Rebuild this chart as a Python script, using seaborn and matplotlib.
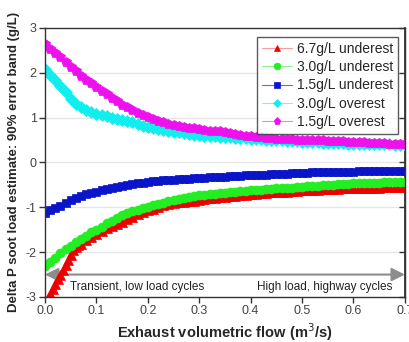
import numpy as np
import pandas as pd
import matplotlib
matplotlib.use("Agg")
import matplotlib.pyplot as plt
import seaborn as sns

flow = [round(0.01 * i, 2) for i in range(71)]
# the steep red curve is sampled more densely at low flow
flow_67 = [0.0, 0.005, 0.01, 0.015, 0.02, 0.025, 0.03, 0.035, 0.04, 0.045,
           0.05, 0.055, 0.06, 0.065] + [round(0.01 * i, 2) for i in range(7, 71)]

under_67 = [-3.10, -3.02, -2.93, -2.83, -2.72, -2.61, -2.50, -2.39, -2.28, -2.17,
            -2.06, -1.96, -1.88, -1.85, -1.81, -1.74, -1.66,
            -1.60, -1.54, -1.47, -1.42, -1.37, -1.32, -1.27, -1.21, -1.16, -1.11,
            -1.06, -1.03, -0.99, -0.96, -0.93, -0.91, -0.89, -0.88, -0.86, -0.85,
            -0.84, -0.82, -0.80, -0.79, -0.77, -0.76, -0.75, -0.74, -0.73, -0.72,
            -0.71, -0.70, -0.69, -0.68, -0.67, -0.67, -0.66, -0.65, -0.64, -0.63,
            -0.62, -0.62, -0.61, -0.61, -0.60, -0.60, -0.59, -0.59, -0.58, -0.58,
            -0.58, -0.57, -0.57, -0.56, -0.56, -0.56, -0.55, -0.55, -0.55, -0.54,
            -0.54]
under_30 = [-2.32, -2.22, -2.12, -2.03, -1.94, -1.86, -1.78, -1.71, -1.63, -1.56,
            -1.50, -1.43, -1.36, -1.30, -1.23, -1.17, -1.13, -1.09, -1.05, -1.02,
            -0.99, -0.96, -0.93, -0.90, -0.87, -0.84, -0.82, -0.80, -0.77, -0.75,
            -0.73, -0.72, -0.71, -0.70, -0.69, -0.68, -0.66, -0.65, -0.64, -0.63,
            -0.62, -0.61, -0.61, -0.60, -0.59, -0.58, -0.57, -0.56, -0.56, -0.55,
            -0.54, -0.53, -0.53, -0.52, -0.51, -0.51, -0.50, -0.49, -0.49, -0.48,
            -0.47, -0.47, -0.46, -0.46, -0.45, -0.45, -0.44, -0.44, -0.44, -0.43,
            -0.43]
under_15 = [-1.13, -1.07, -1.02, -0.97, -0.90, -0.84, -0.79, -0.75, -0.71, -0.68,
            -0.65, -0.62, -0.60, -0.57, -0.55, -0.53, -0.51, -0.49, -0.47, -0.45,
            -0.43, -0.42, -0.41, -0.40, -0.39, -0.39, -0.38, -0.37, -0.36, -0.35,
            -0.34, -0.34, -0.33, -0.33, -0.32, -0.32, -0.31, -0.30, -0.30, -0.29,
            -0.28, -0.28, -0.27, -0.27, -0.26, -0.26, -0.25, -0.25, -0.24, -0.24,
            -0.23, -0.23, -0.22, -0.22, -0.22, -0.22, -0.22, -0.21, -0.21, -0.21,
            -0.21, -0.20, -0.20, -0.20, -0.20, -0.20, -0.19, -0.19, -0.19, -0.19,
            -0.19]
over_30 = [2.09, 1.95, 1.83, 1.70, 1.56, 1.42, 1.30, 1.23, 1.17, 1.13,
           1.09, 1.06, 1.03, 1.00, 0.97, 0.95, 0.92, 0.89, 0.85, 0.82,
           0.79, 0.77, 0.75, 0.72, 0.70, 0.68, 0.67, 0.66, 0.64, 0.62,
           0.61, 0.60, 0.59, 0.58, 0.57, 0.57, 0.56, 0.55, 0.54, 0.54,
           0.53, 0.52, 0.52, 0.51, 0.50, 0.50, 0.49, 0.48, 0.48, 0.47,
           0.46, 0.46, 0.45, 0.45, 0.44, 0.44, 0.44, 0.43, 0.43, 0.42,
           0.42, 0.42, 0.41, 0.41, 0.41, 0.40, 0.40, 0.40, 0.39, 0.39,
           0.38]
over_15 = [2.65, 2.52, 2.45, 2.35, 2.24, 2.13, 2.03, 1.93, 1.84, 1.76,
           1.68, 1.60, 1.52, 1.44, 1.36, 1.29, 1.23, 1.17, 1.11, 1.06,
           1.01, 0.97, 0.93, 0.89, 0.86, 0.83, 0.81, 0.79, 0.77, 0.76,
           0.75, 0.73, 0.71, 0.70, 0.69, 0.67, 0.65, 0.63, 0.61, 0.59,
           0.58, 0.57, 0.56, 0.55, 0.54, 0.53, 0.53, 0.52, 0.52, 0.51,
           0.51, 0.50, 0.50, 0.49, 0.49, 0.48, 0.48, 0.47, 0.47, 0.46,
           0.46, 0.45, 0.45, 0.44, 0.44, 0.43, 0.43, 0.42, 0.41, 0.41,
           0.40]

labels = ["6.7g/L underest", "3.0g/L underest", "1.5g/L underest",
          "3.0g/L overest", "1.5g/L overest"]
series = [under_67, under_30, under_15, over_30, over_15]
xs = [flow_67, flow, flow, flow, flow]
marker_colors = ["#ee0000", "#22ee22", "#0a14c8", "#11eeee", "#ee11ee"]
line_colors = ["#f4a0a0", "#90ee90", "#6070d0", "#80f0f0", "#f080f0"]
markers = ["^", "o", "s", "D", "p"]
msizes = [6.5, 6.5, 6, 6, 7]

sns.set_theme(style="ticks")
plt.rcParams["font.family"] = ["Liberation Sans", "DejaVu Sans"]
plt.rcParams["axes.unicode_minus"] = False

fig = plt.figure(figsize=(4.09, 3.42), dpi=100)
ax = fig.add_axes([0.110, 0.1316, 0.880, 0.787])

for x, y, lab, mc, lc, mk, ms in zip(xs, series, labels, marker_colors, line_colors, markers, msizes):
    df = pd.DataFrame({"x": x, "y": y})
    sns.lineplot(data=df, x="x", y="y", ax=ax, color=lc, linewidth=0.8,
                 marker=mk, markersize=ms, markerfacecolor=mc, markeredgecolor=mc,
                 markeredgewidth=0.5, label=lab)

ax.set_xlim(0, 0.7)
ax.set_ylim(-3, 3)
ax.set_xticks([0.0, 0.1, 0.2, 0.3, 0.4, 0.5, 0.6, 0.7])
ax.set_xticklabels(["0.0", "0.1", "0.2", "0.3", "0.4", "0.5", "0.6", "0.7"])
ax.set_yticks([-3, -2, -1, 0, 1, 2, 3])
for yv in [-2, -1, 0, 1, 2]:
    ax.axhline(yv, color="#e6e6e6", linewidth=0.9, zorder=0)

for s in ax.spines.values():
    s.set_color("#333333")
    s.set_linewidth(1.0)
ax.tick_params(axis="both", direction="out", length=4, width=1, colors="#333333",
               labelsize=9, labelcolor="#444444", pad=2)
sec = ax.secondary_yaxis("right")
sec.set_yticks([-3, -2, -1, 0, 1, 2, 3])
sec.tick_params(direction="in", length=4, width=1, labelright=False, colors="#333333")
sec.spines["right"].set_color("#333333")

ax.set_xlabel("Exhaust volumetric flow (m$^3$/s)", fontsize=10.5, fontweight="bold", labelpad=3)
ax.set_ylabel("Delta P soot load estimate: 90% error band (g/L)", fontsize=9.5,
              fontweight="bold", labelpad=4)

ax.annotate("", xy=(0.7, -2.5), xytext=(0.0, -2.5),
            arrowprops=dict(arrowstyle="<|-|>", color="#8c8c8c", lw=1.5,
                            mutation_scale=20, shrinkA=0, shrinkB=0),
            annotation_clip=False, zorder=1)
ax.text(0.048, -2.78, "Transient, low load cycles", fontsize=8.5, color="#222222", va="center")
ax.text(0.676, -2.78, "High load, highway cycles", fontsize=8.5, color="#222222",
        va="center", ha="right")

leg = ax.legend(loc="upper right", bbox_to_anchor=(0.98, 0.965), borderaxespad=0,
                fontsize=10, frameon=True, fancybox=False, edgecolor="#333333",
                handlelength=2.2, handletextpad=0.3, borderpad=0.35, labelspacing=0.3,
                markerscale=0.75)
leg.get_frame().set_linewidth(1.0)

fig.savefig("out.png", dpi=100)
